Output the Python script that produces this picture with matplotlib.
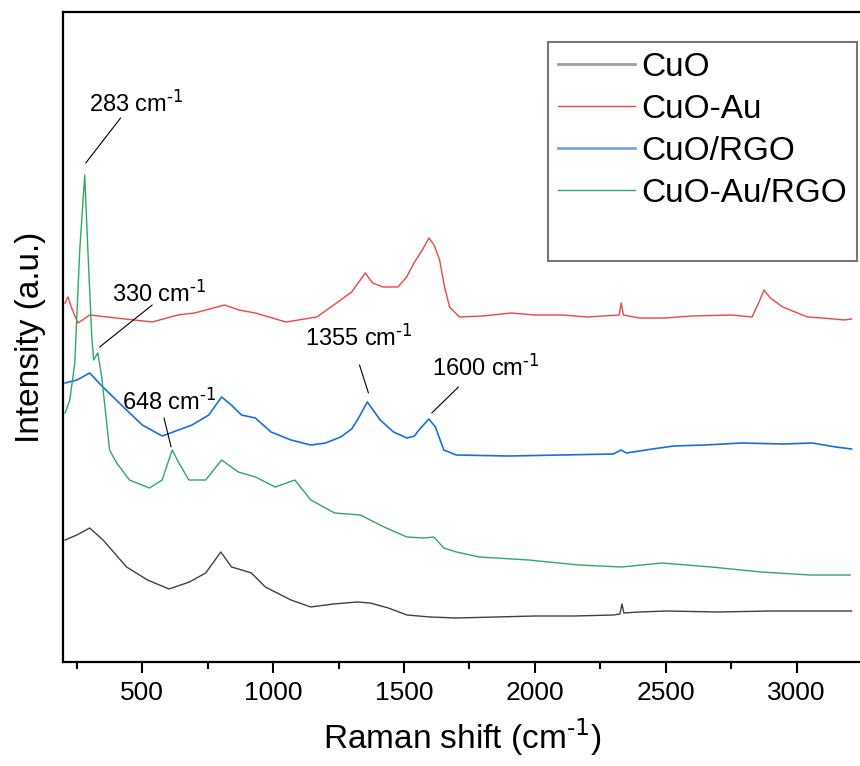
import matplotlib.pyplot as plt
from matplotlib.lines import Line2D

plt.rcParams['font.family'] = ['Liberation Sans', 'DejaVu Sans']
plt.rcParams['mathtext.default'] = 'regular'

# Raman shift (cm-1) and intensity (a.u.), curves already offset
cuo_x = [205, 250, 299, 350, 440, 520, 602, 680, 742, 800, 841, 880, 917, 970, 1068, 1144, 1230,
         1322, 1371, 1440, 1511, 1600, 1700, 1850, 2000, 2150, 2300, 2325, 2333, 2340, 2400, 2500,
         2700, 2900, 3100, 3210]
cuo_y = [122, 127, 134, 122, 95, 82, 73, 80, 89, 110, 95, 92, 89, 75, 62, 55, 58,
         60, 59, 54, 47, 45, 44, 45, 46, 46, 47, 48, 58, 49, 50, 51,
         50, 51, 51, 51]

cuoau_x = [205, 216, 230, 254, 299, 400, 538, 636, 700, 814, 870, 932, 1049, 1167, 1242, 1300,
           1352, 1380, 1420, 1477, 1510, 1538, 1570, 1595, 1615, 1636, 1655, 1674, 1712, 1800,
           1909, 2000, 2106, 2200, 2322, 2330, 2338, 2400, 2496, 2600, 2750, 2830, 2860, 2875,
           2900, 2947, 3042, 3100, 3182, 3210]
cuoau_y = [359, 365, 354, 339, 347, 344, 340, 347, 349, 357, 352, 349, 340, 345, 359, 370,
           389, 379, 375, 375, 385, 399, 412, 424, 417, 402, 375, 355, 345, 346,
           349, 347, 347, 345, 347, 359, 347, 344, 344, 346, 347, 345, 362, 372,
           364, 355, 345, 344, 342, 343]

cuorgo_x = [205, 250, 299, 349, 440, 500, 576, 690, 754, 803, 840, 879, 932, 992, 1068, 1144,
            1200, 1258, 1300, 1322, 1360, 1409, 1460, 1511, 1540, 1557, 1595, 1620, 1652, 1700,
            1900, 2100, 2300, 2329, 2350, 2450, 2530, 2650, 2790, 2950, 3060, 3150, 3210]
cuorgo_y = [279, 282, 289, 275, 252, 237, 226, 237, 247, 265, 257, 247, 244, 230, 222, 217,
            219, 225, 233, 242, 260, 242, 230, 224, 226, 232, 243, 235, 212, 207,
            206, 207, 208, 212, 209, 213, 216, 217, 219, 218, 219, 215, 213]

cuoaurgo_x = [205, 223, 242, 261, 280, 292, 307, 314, 330, 345, 364, 375, 402, 451, 527, 576,
              614, 640, 678, 742, 803, 867, 932, 1008, 1083, 1144, 1235, 1333, 1424, 1511,
              1576, 1614, 1652, 1700, 1788, 1977, 2167, 2333, 2485, 2674, 2864, 3053, 3205]
cuoaurgo_y = [249, 262, 299, 412, 487, 412, 325, 302, 309, 285, 239, 212, 199, 182, 174, 182,
              212, 199, 182, 182, 202, 190, 185, 175, 182, 162, 149, 147, 135, 125,
              124, 125, 114, 110, 105, 102, 97, 95, 99, 95, 90, 87, 87]

labels = ['CuO', 'CuO-Au', 'CuO/RGO', 'CuO-Au/RGO']
colors = ['#404040', '#F04444', '#1A6FE0', '#2EA866']

# peak labels: text, text position, leader line (from, to)
sup = r'$^{\text{-1}}$'
peak_text = ['283 cm' + sup, '330 cm' + sup, '648 cm' + sup, '1355 cm' + sup, '1600 cm' + sup]
peak_text_pos = [(296, 550), (386, 360), (424, 252), (1121, 316), (1606, 286)]
peak_line = [((284, 499), (417, 544)), ((337, 315), (538, 357)), ((583, 244), (610, 215)),
             ((1330, 297), (1364, 269)), ((1708, 275), (1606, 249))]

fig = plt.figure(figsize=(8.6, 7.66), dpi=100)
ax = fig.add_axes([63 / 860, 104 / 766, 799 / 860, 650 / 766])

ax.plot(cuo_x, cuo_y, color=colors[0], lw=1)
ax.plot(cuoau_x, cuoau_y, color=colors[1], lw=1)
ax.plot(cuorgo_x, cuorgo_y, color=colors[2], lw=1.2)
ax.plot(cuoaurgo_x, cuoaurgo_y, color=colors[3], lw=1)

for t, pos, (p0, p1) in zip(peak_text, peak_text_pos, peak_line):
    ax.text(pos[0], pos[1], t, fontsize=17, ha='left', va='baseline')
    ax.annotate('', xy=p0, xytext=p1,
                arrowprops=dict(arrowstyle='-', color='k', lw=0.8, shrinkA=0, shrinkB=0))

ax.set_xlim(197, 3223)
ax.set_ylim(0, 650)
ax.set_xticks([500, 1000, 1500, 2000, 2500, 3000])
ax.set_xticks([250, 750, 1250, 1750, 2250, 2750, 3250], minor=True)
ax.set_yticks([])
ax.tick_params(axis='x', which='major', direction='out', length=8, width=1.5, labelsize=19, pad=6)
ax.tick_params(axis='x', which='minor', direction='out', length=5, width=1.5)
for s in ax.spines.values():
    s.set_linewidth(1.6)

ax.set_xlabel('Raman shift (cm' + sup + ')', fontsize=24, labelpad=8)
ax.set_ylabel('Intensity (a.u.)', fontsize=24, labelpad=12)

handles = [Line2D([], [], color='#A0A0A0', lw=2),
           Line2D([], [], color=colors[1], lw=1),
           Line2D([], [], color='#7AA6E8', lw=2),
           Line2D([], [], color=colors[3], lw=1),
           Line2D([], [], color='none')]
leg = ax.legend(handles, labels + [' '], loc='upper right', bbox_to_anchor=(0.994, 0.954),
                fontsize=24, frameon=True, fancybox=False, handlelength=2.3, handletextpad=0.2,
                labelspacing=0.33, borderpad=0.3, borderaxespad=0)
leg.get_frame().set_edgecolor('#555555')
leg.get_frame().set_linewidth(1.5)

fig.savefig('out.png', dpi=100)
